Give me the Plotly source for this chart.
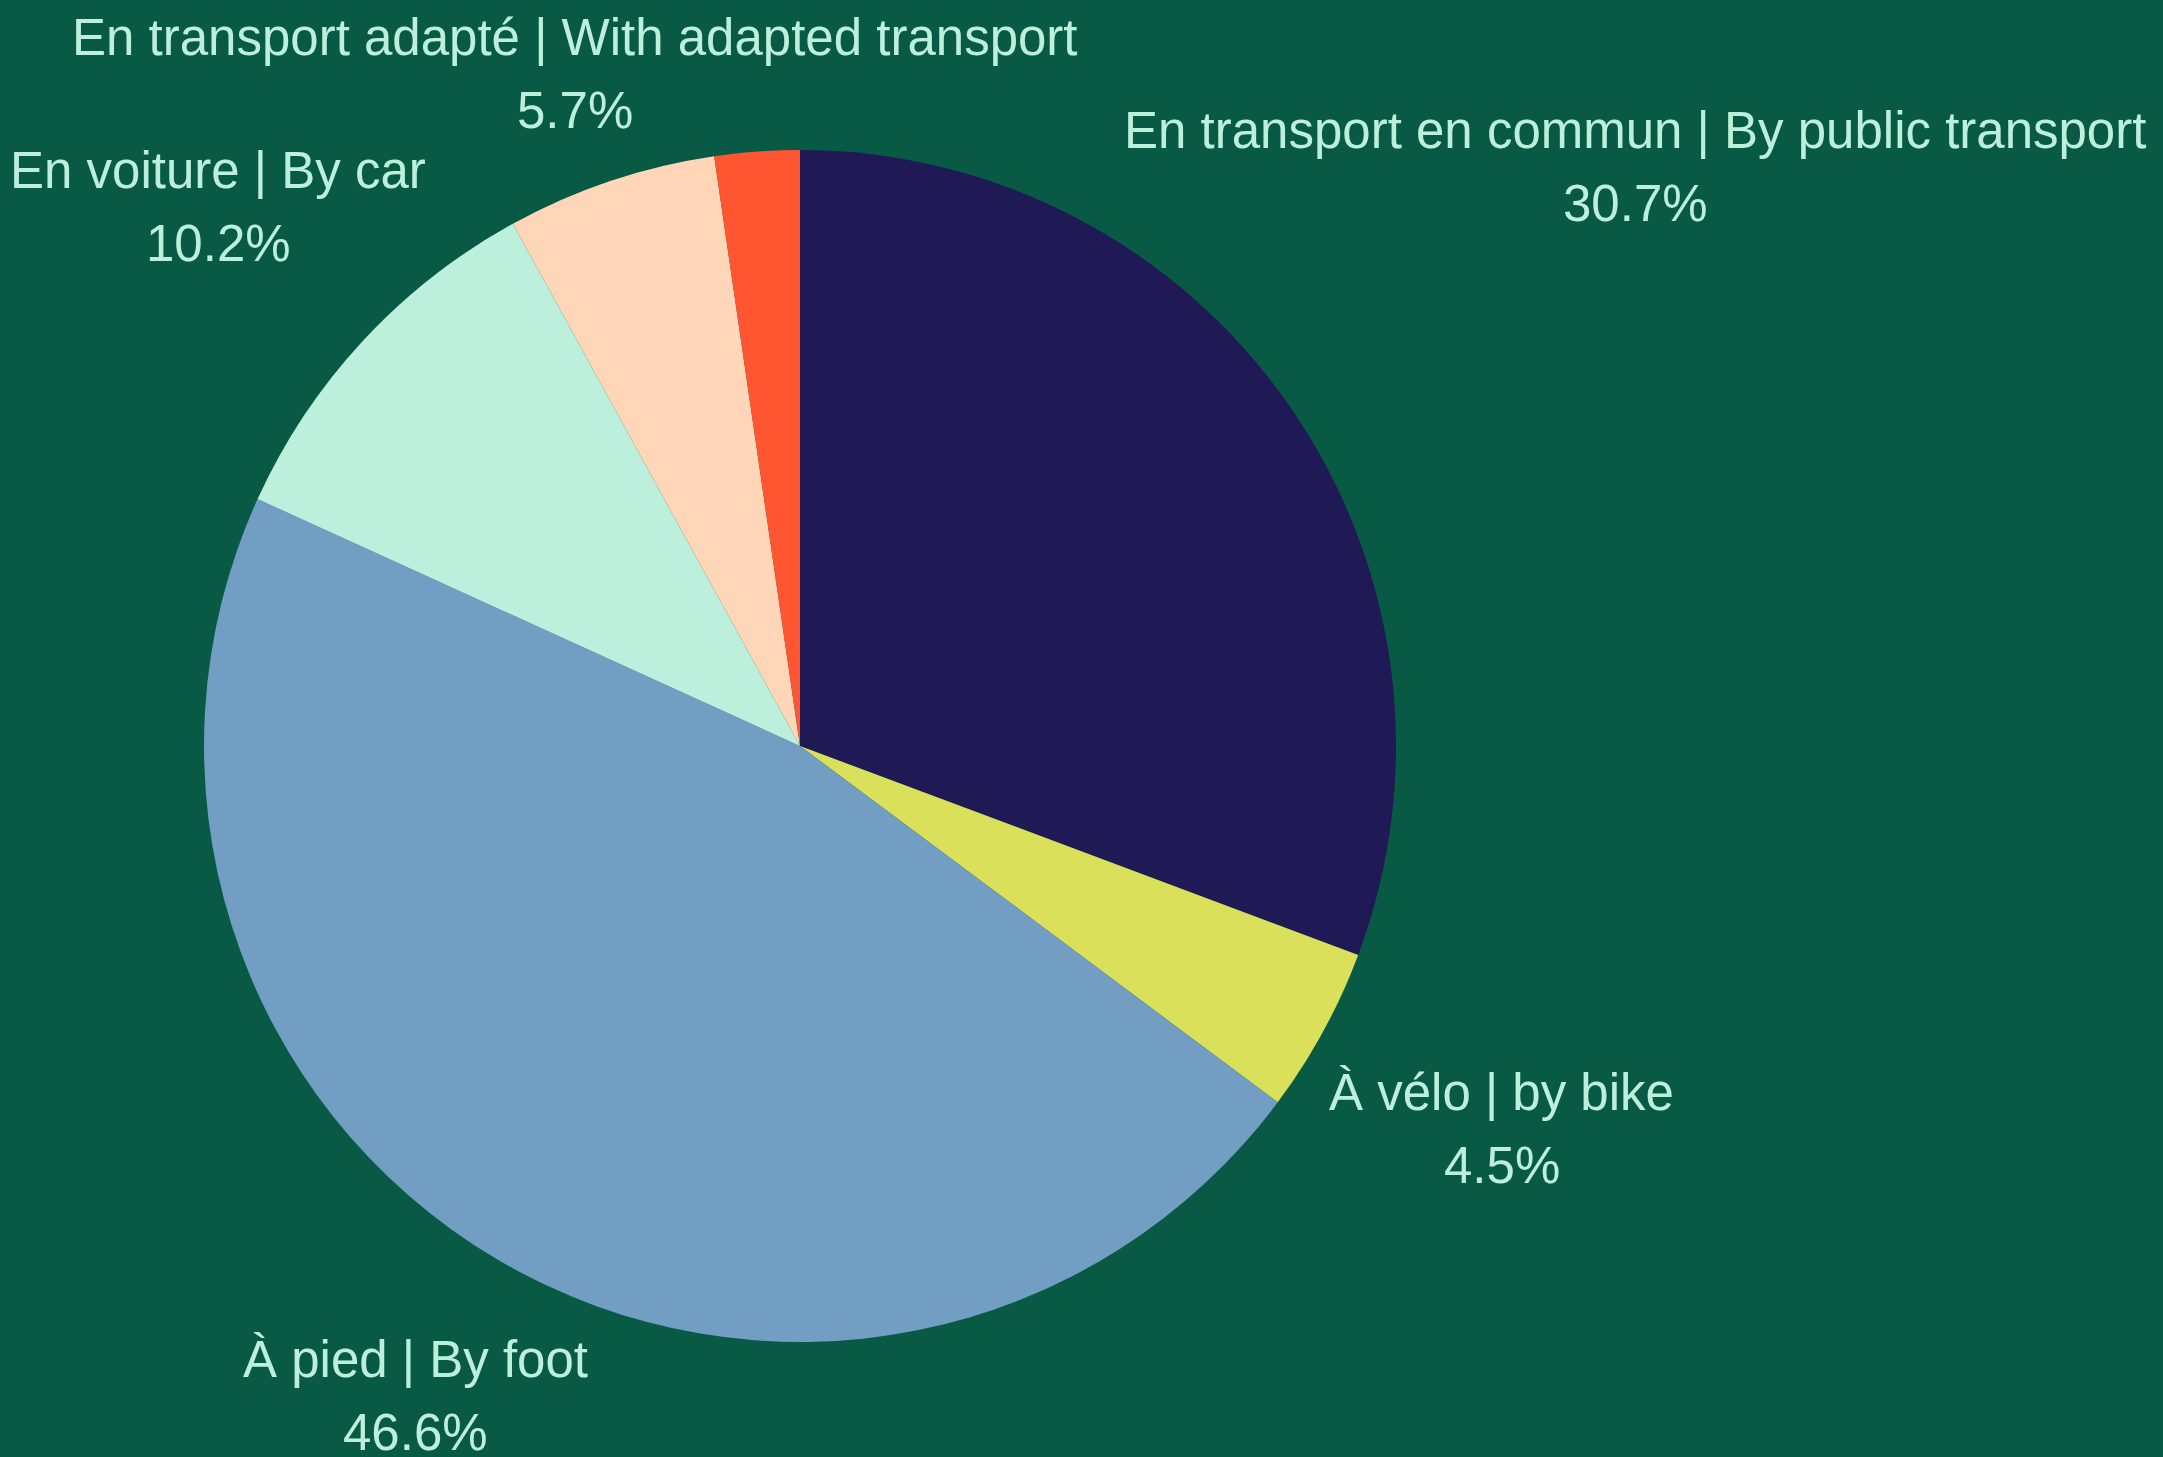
import math
import plotly.graph_objects as go

labels = [
    "En transport en commun | By public transport",
    "À vélo | by bike",
    "À pied | By foot",
    "En voiture | By car",
    "En transport adapté | With adapted transport",
    "Autre | Other",
]
values = [30.7, 4.5, 46.6, 10.2, 5.7, 2.3]
colors = ["#1f1a55", "#dbe05a", "#729ec4", "#bdf0dc", "#ffd6b8", "#ff5530"]
show_label = [True, True, True, True, True, False]
# radial distance of each label block centre, in pie radii (style)
label_dist = [1.705, 1.341, 1.267, 1.331, 1.189, 1.2]

W, H = 2163, 1457
CX, CY, R = 800, 746, 596  # pie centre / radius in px (layout)

dom_x = [(CX - R) / W, (CX + R) / W]
dom_y = [(H - CY - R) / H, (H - CY + R) / H]

BG = "#085a44"
TXT = "#bdf0dc"
FONT = "Liberation Sans"
FS = 51
HALF_GAP = 36.5

fig = go.Figure(go.Pie(
    labels=labels,
    values=values,
    textinfo="none",
    sort=False,
    direction="clockwise",
    rotation=0,
    marker=dict(colors=colors, line=dict(width=0)),
    showlegend=False,
    hoverinfo="label+percent",
    domain=dict(x=dom_x, y=dom_y),
))

total = sum(values)
cum = 0.0
annotations = []
for lab, v, show, d in zip(labels, values, show_label, label_dist):
    mid = (cum + v / 2) / total * 2 * math.pi
    cum += v
    if not show:
        continue
    px = CX + d * R * math.sin(mid)
    py = CY - d * R * math.cos(mid)
    xp = px / W
    yp = (H - py) / H
    pct = f"{v / total * 100:.1f}%"
    for txt, sh in ((lab, HALF_GAP), (pct, -HALF_GAP)):
        annotations.append(dict(
            x=xp, y=yp, xref="paper", yref="paper",
            text=txt, showarrow=False,
            xanchor="center", yanchor="middle", yshift=sh,
            font=dict(family=FONT, size=FS, color=TXT),
        ))

fig.update_layout(
    width=W, height=H,
    paper_bgcolor=BG,
    plot_bgcolor=BG,
    margin=dict(l=0, r=0, t=0, b=0),
    annotations=annotations,
)

fig.write_html(
    "out.html",
    config=dict(displayModeBar=False),
    post_script=(
        "document.body.style.margin='0';"
        "document.body.style.padding='0';"
        "document.body.style.overflow='hidden';"
        f"document.body.style.background='{BG}';"
    ),
)
